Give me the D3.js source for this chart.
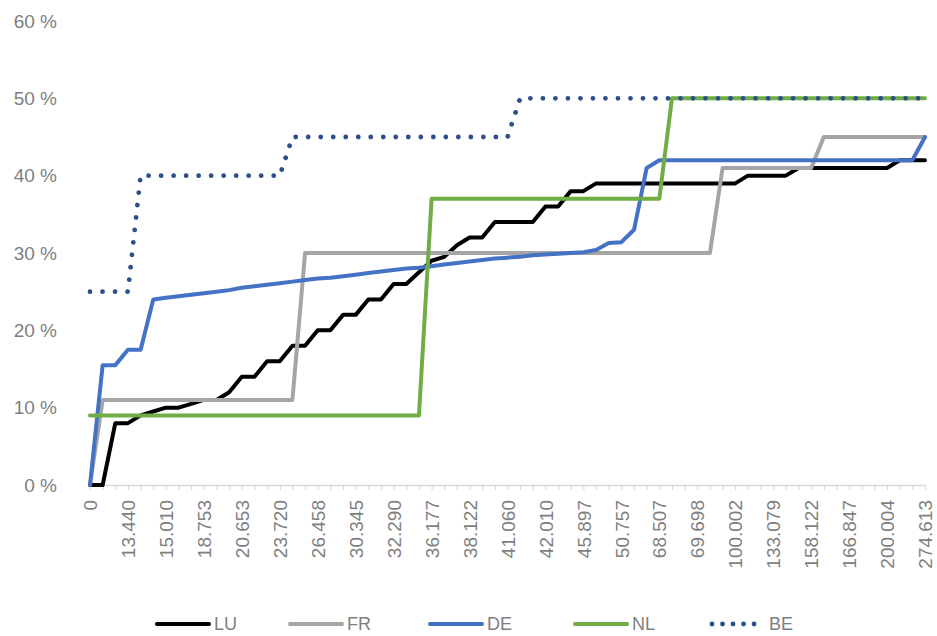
<!DOCTYPE html>
<html>
<head>
<meta charset="utf-8">
<script src="https://cdn.jsdelivr.net/npm/d3@7"></script>
<style>
  html, body { margin: 0; padding: 0; background: #fff; }
  svg text { font-family: "Liberation Sans Narrow", "Liberation Sans", Arial, sans-serif; fill: #7f7f7f; }
</style>
</head>
<body>
<svg id="chart" width="937" height="636"></svg>
<script>
// ---- data ----
const tickLabels = ["0","13.440","15.010","18.753","20.653","23.720","26.458","30.345","32.290","36.177",
  "38.122","41.060","42.010","45.897","50.757","68.507","69.698","100.002","133.079","158.122",
  "166.847","200.004","274.613"];
const labelEvery = 3;
const categoryCount = 67;
const yTicks = [0, 10, 20, 30, 40, 50, 60];

const LU = [0,0,8,8,9,9.5,10,10,10.5,11,11,12,14,14,16,16,18,18,20,20,
  22,22,24,24,26,26,27.5,29,29.5,31,32,32,34,34,34,34,36,36,38,38,
  39,39,39,39,39,39,39,39,39,39,39,39,40,40,40,40,41,41,41,41,
  41,41,41,41,42,42,42];
const FR = [0,11,11,11,11,11,11,11,11,11,11,11,11,11,11,11,11,30,30,30,
  30,30,30,30,30,30,30,30,30,30,30,30,30,30,30,30,30,30,30,30,
  30,30,30,30,30,30,30,30,30,30,41,41,41,41,41,41,41,41,45,45,
  45,45,45,45,45,45,45];
const DE = [0,15.5,15.5,17.5,17.5,24,24.2,24.4,24.6,24.8,25,25.2,25.5,25.7,25.9,26.1,26.3,26.5,26.7,26.8,
  27,27.2,27.4,27.6,27.8,28,28.1,28.3,28.5,28.7,28.9,29.1,29.3,29.4,29.5,29.7,29.8,29.9,30,30.1,
  30.4,31.3,31.4,33,41,42,42,42,42,42,42,42,42,42,42,42,42,42,42,42,
  42,42,42,42,42,42,45];
const NL = [9,9,9,9,9,9,9,9,9,9,9,9,9,9,9,9,9,9,9,9,
  9,9,9,9,9,9,9,37,37,37,37,37,37,37,37,37,37,37,37,37,
  37,37,37,37,37,37,50,50,50,50,50,50,50,50,50,50,50,50,50,50,
  50,50,50,50,50,50,50];
const BE = [25,25,25,25,40,40,40,40,40,40,40,40,40,40,40,40,45,45,45,45,
  45,45,45,45,45,45,45,45,45,45,45,45,45,45,50,50,50,50,50,50,
  50,50,50,50,50,50,50,50,50,50,50,50,50,50,50,50,50,50,50,50,
  50,50,50,50,50,50,50];

const seriesNames = ["LU","FR","DE","NL","BE"];
const seriesValues = [LU, FR, DE, NL, BE];
const seriesColors = ["#000000","#a5a5a5","#4472c4","#70ad47","#2c4f8c"];
const seriesDash = [null, null, null, null, "0.01 12.5"];

// ---- layout ----
const svg = d3.select("#chart");
const x = d3.scaleLinear().domain([0, categoryCount - 1]).range([90, 925]);
const y = d3.scaleLinear().domain([0, 60]).range([485, 21]);

// y axis (labels only)
const yAxis = svg.append("g").attr("transform", "translate(90,0)")
  .call(d3.axisLeft(y).tickValues(yTicks).tickSize(0).tickPadding(33).tickFormat(d => d + " %"));
yAxis.select(".domain").remove();
yAxis.selectAll("text").attr("font-size", 19).style("fill", "#7f7f7f");

// x axis
const xAxis = svg.append("g").attr("transform", "translate(0,485)")
  .call(d3.axisBottom(x).tickValues(d3.range(categoryCount)).tickSize(5).tickSizeOuter(0)
    .tickFormat(i => i % labelEvery === 0 ? tickLabels[i / labelEvery] : ""));
xAxis.select(".domain").attr("stroke", "#d9d9d9").attr("stroke-width", 1.5);
xAxis.selectAll(".tick line").attr("stroke", "#d9d9d9").attr("stroke-width", 1.2);
xAxis.selectAll(".tick text")
  .attr("font-size", 19)
  .attr("transform", "rotate(-90)")
  .attr("text-anchor", "end")
  .attr("x", -15)
  .attr("y", 0)
  .attr("dy", "0.35em")
  .style("fill", "#7f7f7f");

// lines
const line = d3.line().x((d, i) => x(i)).y(d => y(d));
seriesValues.forEach((vals, k) => {
  svg.append("path")
    .datum(vals)
    .attr("fill", "none")
    .attr("stroke", seriesColors[k])
    .attr("stroke-width", k === 4 ? 4.8 : 4)
    .attr("stroke-linejoin", "round")
    .attr("stroke-linecap", "round")
    .attr("stroke-dasharray", seriesDash[k])
    .attr("d", line);
});

// legend
const legendX = [157, 290, 430, 575, 712];
const legend = svg.append("g").attr("transform", "translate(0,624)");
seriesNames.forEach((name, k) => {
  const g = legend.append("g").attr("transform", `translate(${legendX[k]},0)`);
  g.append("line").attr("x1", 0).attr("x2", 52).attr("y1", 0).attr("y2", 0)
    .attr("stroke", seriesColors[k]).attr("stroke-width", k === 4 ? 4.8 : 4)
    .attr("stroke-linecap", "round")
    .attr("stroke-dasharray", k === 4 ? "0.01 10.5" : null);
  g.append("text").attr("x", 57).attr("y", 0).attr("dy", "0.35em")
    .attr("font-size", 18).style("fill", "#7f7f7f").text(name);
});
</script>
</body>
</html>
